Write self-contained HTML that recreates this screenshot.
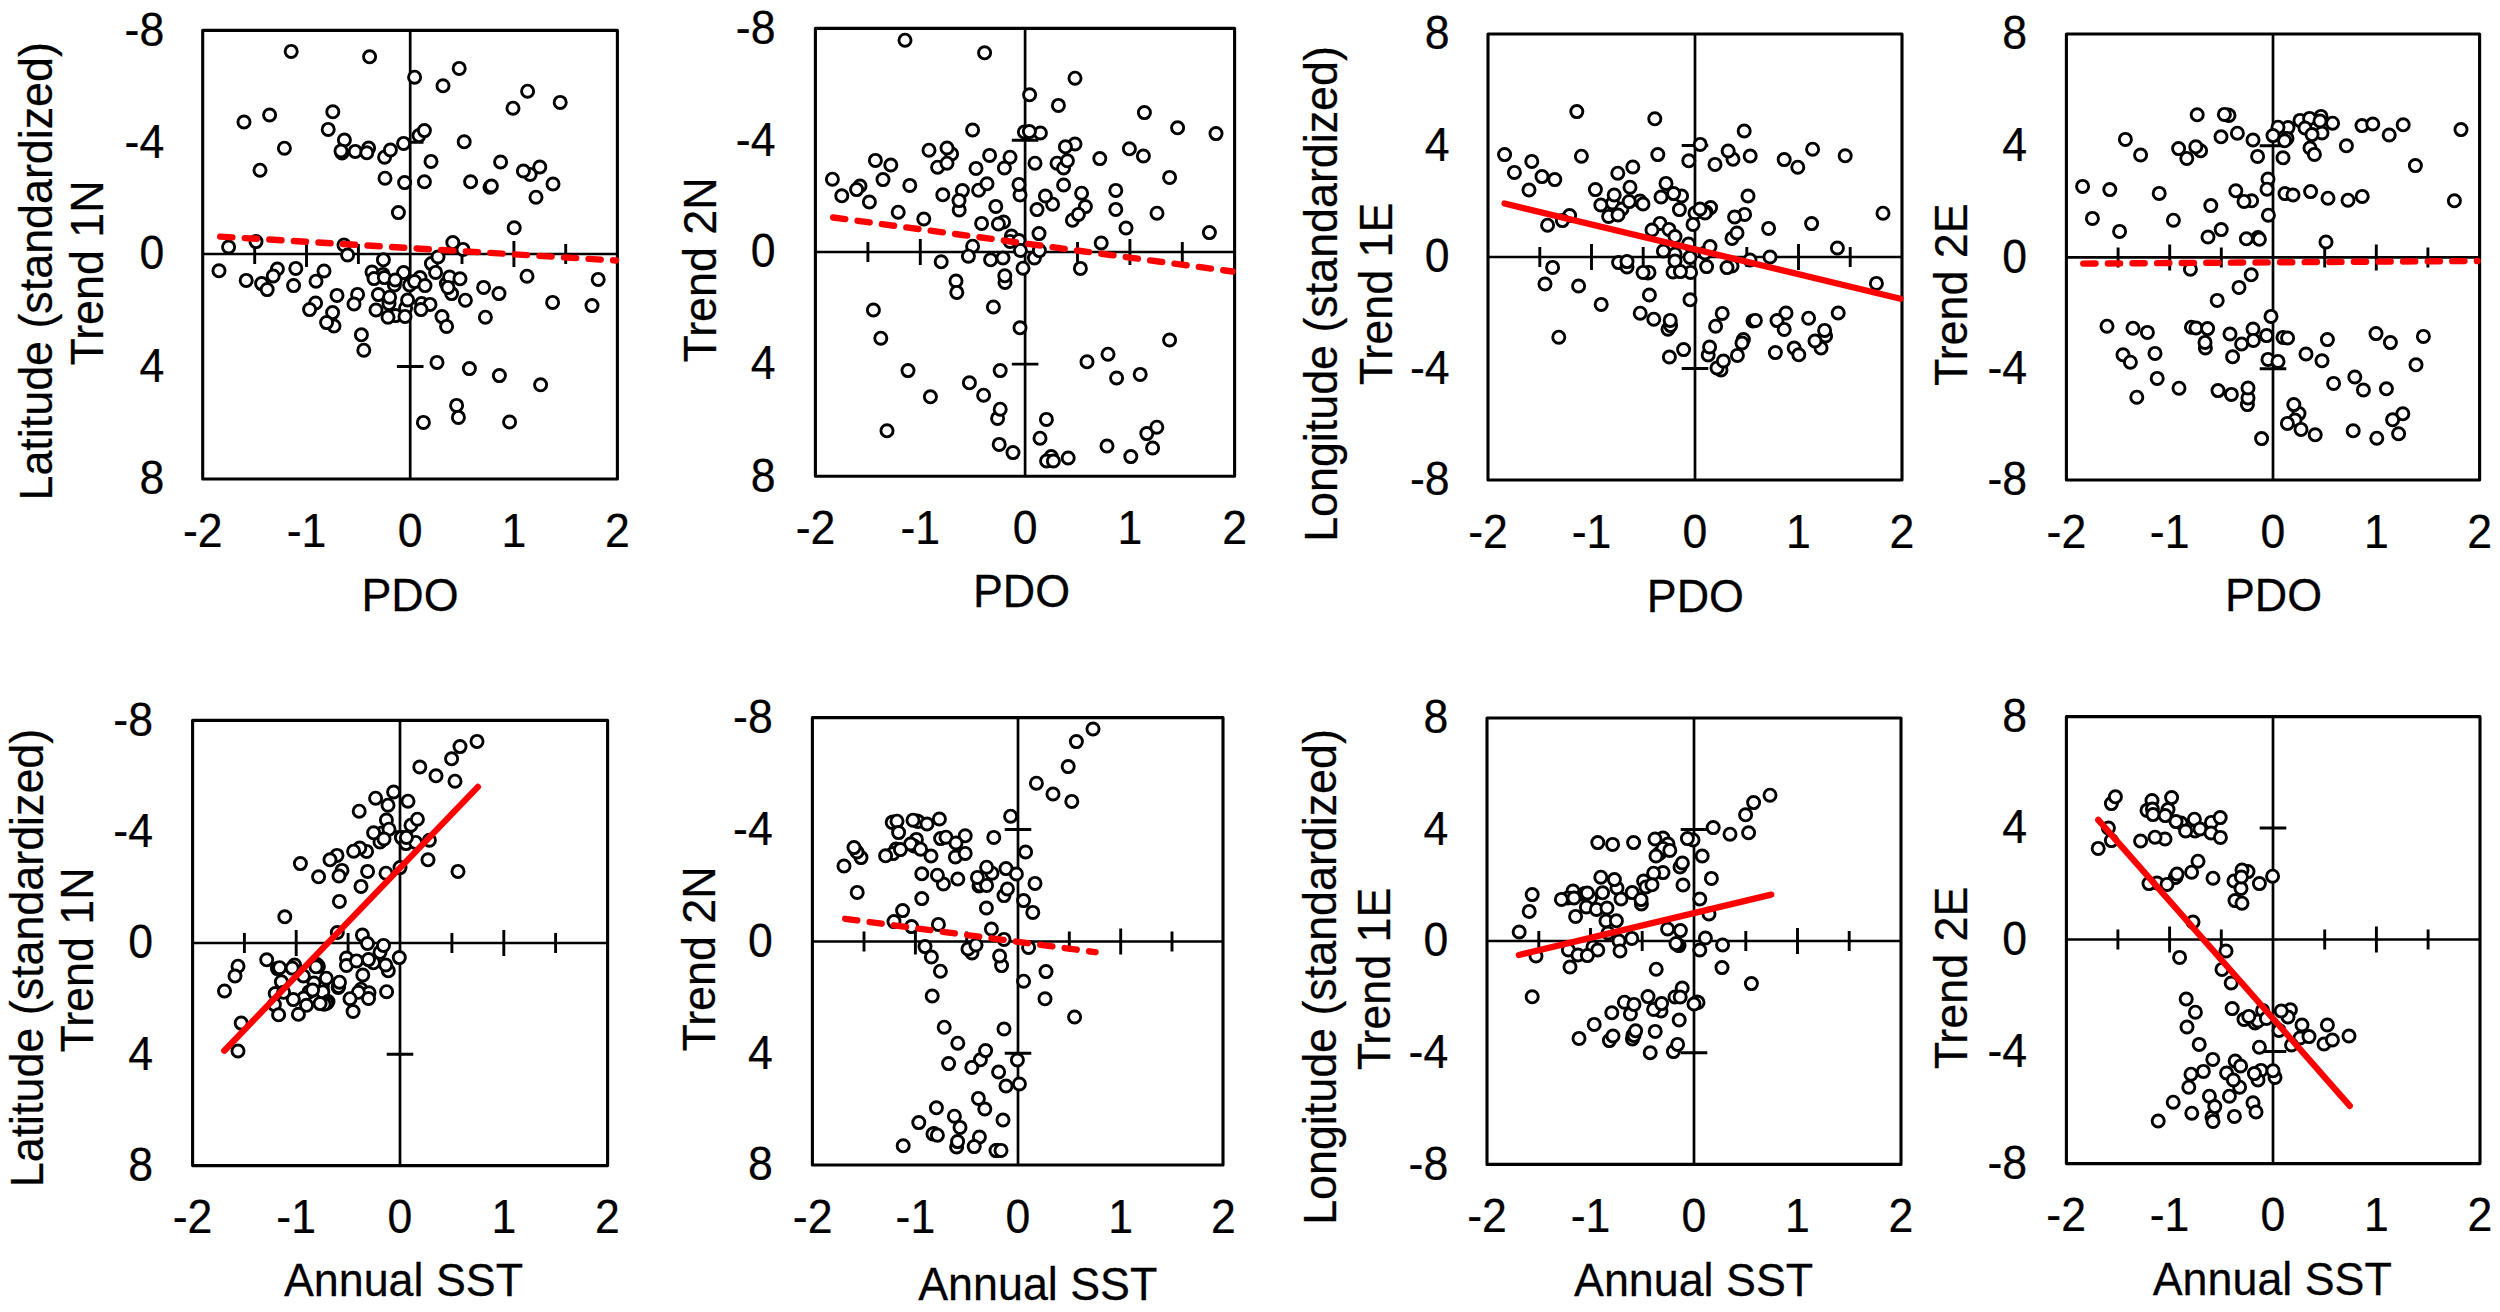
<!DOCTYPE html>
<html><head><meta charset="utf-8"><title>Trend scatter plots</title>
<style>
html,body{margin:0;padding:0;background:#fff}
svg{display:block}
text{font-family:"Liberation Sans",Arial,Helvetica,sans-serif;font-size:48.0px;fill:#000;stroke:#000;stroke-width:0.25px}
.lb{font-size:46.8px}
.ax{stroke:#000;stroke-width:3.1;stroke-linejoin:round;fill:none}
.ai{stroke:#000;stroke-width:2.7;fill:none}
.tk{stroke:#000;stroke-width:2.9;fill:none}
.pt circle{fill:#fff;stroke:#000;stroke-width:2.9}
.rs{stroke:#f00;stroke-width:6.3;stroke-linecap:round;fill:none}
.rd{stroke:#f00;stroke-width:6.4;stroke-linecap:round;stroke-dasharray:12.2 12.4;fill:none}
</style></head>
<body>
<svg width="2500" height="1312" viewBox="0 0 2500 1312">
<rect width="2500" height="1312" fill="#fff"/>
<g id="panel1">
<rect class="ax" x="202.7" y="30.4" width="414.7" height="448.6"/>
<path class="ai" d="M202.7 254H617.4M410.2 30.4V479"/>
<path class="tk" d="M254.7 244V264M306.5 241V267M358.4 244V264M462 244V264M513.9 241V267M565.7 244V264M396.9 142.2H423.5M396.9 366.5H423.5"/>
<g class="pt"><circle cx="419" cy="135.6" r="6.05"/><circle cx="368.6" cy="148" r="6.05"/><circle cx="384.6" cy="157.2" r="6.05"/><circle cx="342" cy="153" r="6.05"/><circle cx="530.2" cy="174.4" r="6.05"/><circle cx="490" cy="187.2" r="6.05"/>
<circle cx="463" cy="249.4" r="6.05"/><circle cx="344" cy="245" r="6.05"/><circle cx="431.4" cy="263.6" r="6.05"/><circle cx="277.4" cy="269" r="6.05"/><circle cx="261.6" cy="283.6" r="6.05"/><circle cx="372" cy="272" r="6.05"/>
<circle cx="383" cy="274.4" r="6.05"/><circle cx="374" cy="278.6" r="6.05"/><circle cx="394.4" cy="285" r="6.05"/><circle cx="420" cy="277.6" r="6.05"/><circle cx="409.6" cy="285" r="6.05"/><circle cx="446.4" cy="283.6" r="6.05"/>
<circle cx="451.6" cy="293.6" r="6.05"/><circle cx="389" cy="303.6" r="6.05"/><circle cx="405.6" cy="308" r="6.05"/><circle cx="315.6" cy="303" r="6.05"/><circle cx="421.6" cy="303.6" r="6.05"/><circle cx="332.6" cy="312.6" r="6.05"/>
<circle cx="395.6" cy="315.6" r="6.05"/><circle cx="405" cy="316.4" r="6.05"/><circle cx="334" cy="326" r="6.05"/><circle cx="291.2" cy="51.4" r="6.05"/><circle cx="369.6" cy="56.8" r="6.05"/><circle cx="459.2" cy="68.4" r="6.05"/>
<circle cx="414.6" cy="77.2" r="6.05"/><circle cx="443" cy="85.8" r="6.05"/><circle cx="527.6" cy="91.2" r="6.05"/><circle cx="560.2" cy="102.4" r="6.05"/><circle cx="513" cy="108.2" r="6.05"/><circle cx="332.8" cy="111.8" r="6.05"/>
<circle cx="269.6" cy="115" r="6.05"/><circle cx="244" cy="122" r="6.05"/><circle cx="328.2" cy="129.4" r="6.05"/><circle cx="424.4" cy="130.6" r="6.05"/><circle cx="344.4" cy="140" r="6.05"/><circle cx="464.2" cy="141.8" r="6.05"/>
<circle cx="403.6" cy="143.4" r="6.05"/><circle cx="284.4" cy="148.2" r="6.05"/><circle cx="390.4" cy="150" r="6.05"/><circle cx="341" cy="151" r="6.05"/><circle cx="355.2" cy="151.4" r="6.05"/><circle cx="366.8" cy="152.8" r="6.05"/>
<circle cx="431" cy="161.4" r="6.05"/><circle cx="500.6" cy="162" r="6.05"/><circle cx="539.8" cy="167" r="6.05"/><circle cx="260" cy="170.2" r="6.05"/><circle cx="523.4" cy="171" r="6.05"/><circle cx="385" cy="178.2" r="6.05"/>
<circle cx="404.6" cy="182.6" r="6.05"/><circle cx="424.4" cy="181.8" r="6.05"/><circle cx="470.6" cy="181.8" r="6.05"/><circle cx="553" cy="184" r="6.05"/><circle cx="491.4" cy="186" r="6.05"/><circle cx="536" cy="197.2" r="6.05"/>
<circle cx="398.4" cy="212.6" r="6.05"/><circle cx="514.2" cy="227.8" r="6.05"/><circle cx="452.8" cy="242.6" r="6.05"/><circle cx="256" cy="241.6" r="6.05"/><circle cx="228.6" cy="247" r="6.05"/><circle cx="347.6" cy="255" r="6.05"/>
<circle cx="438" cy="257" r="6.05"/><circle cx="383.4" cy="259.8" r="6.05"/><circle cx="219" cy="270.8" r="6.05"/><circle cx="295.8" cy="268.4" r="6.05"/><circle cx="324" cy="271" r="6.05"/><circle cx="273.2" cy="276" r="6.05"/>
<circle cx="246.2" cy="280.4" r="6.05"/><circle cx="267.2" cy="289.6" r="6.05"/><circle cx="293.6" cy="285.6" r="6.05"/><circle cx="316" cy="281.2" r="6.05"/><circle cx="384.4" cy="277.6" r="6.05"/><circle cx="403.6" cy="272.6" r="6.05"/>
<circle cx="395.2" cy="280" r="6.05"/><circle cx="414.6" cy="281.6" r="6.05"/><circle cx="425" cy="285.6" r="6.05"/><circle cx="435.6" cy="272.4" r="6.05"/><circle cx="449.6" cy="277" r="6.05"/><circle cx="460" cy="278.8" r="6.05"/>
<circle cx="448" cy="287.4" r="6.05"/><circle cx="483.6" cy="287.4" r="6.05"/><circle cx="499" cy="293.6" r="6.05"/><circle cx="527" cy="276.2" r="6.05"/><circle cx="598.2" cy="279.4" r="6.05"/><circle cx="337" cy="295.4" r="6.05"/>
<circle cx="357.6" cy="294.4" r="6.05"/><circle cx="378.4" cy="294.6" r="6.05"/><circle cx="389.6" cy="297.2" r="6.05"/><circle cx="407.6" cy="300" r="6.05"/><circle cx="465.4" cy="300.2" r="6.05"/><circle cx="354" cy="304" r="6.05"/>
<circle cx="430" cy="304.4" r="6.05"/><circle cx="421" cy="309.6" r="6.05"/><circle cx="309.6" cy="309.6" r="6.05"/><circle cx="376" cy="310" r="6.05"/><circle cx="388" cy="317.2" r="6.05"/><circle cx="442" cy="316.6" r="6.05"/>
<circle cx="485.4" cy="317.2" r="6.05"/><circle cx="326.6" cy="322.6" r="6.05"/><circle cx="446.6" cy="326.4" r="6.05"/><circle cx="552.6" cy="302.4" r="6.05"/><circle cx="592" cy="305.6" r="6.05"/><circle cx="361.4" cy="334.8" r="6.05"/>
<circle cx="363.8" cy="350.2" r="6.05"/><circle cx="437" cy="362.4" r="6.05"/><circle cx="469.4" cy="368.6" r="6.05"/><circle cx="499.4" cy="375.6" r="6.05"/><circle cx="540.6" cy="384.8" r="6.05"/><circle cx="456.6" cy="405.4" r="6.05"/>
<circle cx="458.4" cy="417.4" r="6.05"/><circle cx="423.4" cy="422.4" r="6.05"/><circle cx="509.6" cy="422" r="6.05"/></g>
<path class="rd" d="M220.2 236.6L616 260.5"/>
<text transform="translate(164.3 45.7) scale(0.9300 1)" text-anchor="end">-8</text><text transform="translate(164.3 157.5) scale(0.9300 1)" text-anchor="end">-4</text><text transform="translate(164.3 269.3) scale(0.9300 1)" text-anchor="end">0</text><text transform="translate(164.3 381.8) scale(0.9300 1)" text-anchor="end">4</text><text transform="translate(164.3 494.3) scale(0.9300 1)" text-anchor="end">8</text>
<text transform="translate(202.8 546.6) scale(0.9300 1)" text-anchor="middle">-2</text><text transform="translate(306.5 546.6) scale(0.9300 1)" text-anchor="middle">-1</text><text transform="translate(410.2 546.6) scale(0.9300 1)" text-anchor="middle">0</text><text transform="translate(513.9 546.6) scale(0.9300 1)" text-anchor="middle">1</text><text transform="translate(617.5 546.6) scale(0.9300 1)" text-anchor="middle">2</text>
<text class="lb" transform="translate(410 610.6) scale(0.9577 1)" text-anchor="middle">PDO</text>
<text class="lb" transform="translate(51.9 271.3) rotate(-90) scale(0.9577 1)" text-anchor="middle">Latitude (standardized)</text>
<text class="lb" transform="translate(102.8 273) rotate(-90) scale(0.9577 1)" text-anchor="middle">Trend 1N</text>
</g>
<g id="panel2">
<rect class="ax" x="815.4" y="28.4" width="419.2" height="447.9"/>
<path class="ai" d="M815.4 252H1234.6M1025.1 28.4V476.3"/>
<path class="tk" d="M867.9 242V262M920.3 239V265M972.7 242V262M1077.5 242V262M1129.9 239V265M1182.3 242V262M1011.8 140.2H1038.4M1011.8 364.1H1038.4"/>
<g class="pt"><circle cx="1024.4" cy="132" r="6.05"/><circle cx="1040.4" cy="133" r="6.05"/><circle cx="1075" cy="144" r="6.05"/><circle cx="951.6" cy="154" r="6.05"/><circle cx="937.6" cy="167.2" r="6.05"/><circle cx="1057" cy="163.2" r="6.05"/>
<circle cx="1063.6" cy="168" r="6.05"/><circle cx="860" cy="186" r="6.05"/><circle cx="978.6" cy="190.2" r="6.05"/><circle cx="959.2" cy="210" r="6.05"/><circle cx="1020" cy="195" r="6.05"/><circle cx="1052.6" cy="204.2" r="6.05"/>
<circle cx="1085.4" cy="206.6" r="6.05"/><circle cx="1072.4" cy="220.2" r="6.05"/><circle cx="1003.6" cy="222" r="6.05"/><circle cx="1011.4" cy="236" r="6.05"/><circle cx="1010" cy="241.4" r="6.05"/><circle cx="1034.4" cy="258" r="6.05"/>
<circle cx="1005" cy="282.4" r="6.05"/><circle cx="997.6" cy="418.4" r="6.05"/><circle cx="1146.8" cy="433.6" r="6.05"/><circle cx="1051.2" cy="456.6" r="6.05"/><circle cx="1046.6" cy="461" r="6.05"/><circle cx="905" cy="40.2" r="6.05"/>
<circle cx="984.6" cy="52.8" r="6.05"/><circle cx="1075" cy="78.2" r="6.05"/><circle cx="1029.6" cy="94.8" r="6.05"/><circle cx="1058.4" cy="105.4" r="6.05"/><circle cx="1144.4" cy="112.6" r="6.05"/><circle cx="1177.6" cy="127.8" r="6.05"/>
<circle cx="1216" cy="133.6" r="6.05"/><circle cx="972.6" cy="130" r="6.05"/><circle cx="1029.4" cy="131.6" r="6.05"/><circle cx="1065.4" cy="146.8" r="6.05"/><circle cx="947" cy="148" r="6.05"/><circle cx="929" cy="150.2" r="6.05"/>
<circle cx="989.6" cy="155.4" r="6.05"/><circle cx="1010" cy="157.2" r="6.05"/><circle cx="1129.4" cy="148.8" r="6.05"/><circle cx="1143.4" cy="156" r="6.05"/><circle cx="1099.8" cy="158.6" r="6.05"/><circle cx="875.4" cy="160.4" r="6.05"/>
<circle cx="890.8" cy="165" r="6.05"/><circle cx="947" cy="163.2" r="6.05"/><circle cx="976" cy="168.4" r="6.05"/><circle cx="1004.4" cy="168" r="6.05"/><circle cx="1035" cy="163.2" r="6.05"/><circle cx="1067.4" cy="160.8" r="6.05"/>
<circle cx="832.4" cy="179.2" r="6.05"/><circle cx="883" cy="179.6" r="6.05"/><circle cx="856.6" cy="189.6" r="6.05"/><circle cx="909.8" cy="185.4" r="6.05"/><circle cx="841.8" cy="195.8" r="6.05"/><circle cx="869.4" cy="202" r="6.05"/>
<circle cx="987" cy="183.8" r="6.05"/><circle cx="962.4" cy="190.6" r="6.05"/><circle cx="942.8" cy="194.8" r="6.05"/><circle cx="959" cy="200.6" r="6.05"/><circle cx="1019" cy="184.4" r="6.05"/><circle cx="1063.6" cy="185" r="6.05"/>
<circle cx="1169.6" cy="177.4" r="6.05"/><circle cx="1115.8" cy="190.4" r="6.05"/><circle cx="1081.6" cy="193.2" r="6.05"/><circle cx="1045.4" cy="196" r="6.05"/><circle cx="1037" cy="209.6" r="6.05"/><circle cx="1115.8" cy="209.4" r="6.05"/>
<circle cx="1157" cy="213.2" r="6.05"/><circle cx="1078.4" cy="214.4" r="6.05"/><circle cx="995.8" cy="206.4" r="6.05"/><circle cx="898.2" cy="212.2" r="6.05"/><circle cx="923.8" cy="219" r="6.05"/><circle cx="981.6" cy="223.4" r="6.05"/>
<circle cx="998.4" cy="224" r="6.05"/><circle cx="1126" cy="228" r="6.05"/><circle cx="1209.4" cy="232.6" r="6.05"/><circle cx="1039" cy="233.6" r="6.05"/><circle cx="1019" cy="240.6" r="6.05"/><circle cx="1101.2" cy="243" r="6.05"/>
<circle cx="972.6" cy="246.2" r="6.05"/><circle cx="1020.4" cy="250.4" r="6.05"/><circle cx="1039.4" cy="250.6" r="6.05"/><circle cx="968.4" cy="256.2" r="6.05"/><circle cx="1003" cy="258" r="6.05"/><circle cx="990.6" cy="259.8" r="6.05"/>
<circle cx="941.2" cy="261.8" r="6.05"/><circle cx="1023" cy="268.2" r="6.05"/><circle cx="1080.4" cy="268.4" r="6.05"/><circle cx="1004.8" cy="275.8" r="6.05"/><circle cx="956" cy="281" r="6.05"/><circle cx="956.8" cy="292.4" r="6.05"/>
<circle cx="993.4" cy="307" r="6.05"/><circle cx="873.4" cy="310" r="6.05"/><circle cx="1020" cy="327.8" r="6.05"/><circle cx="880.8" cy="338.2" r="6.05"/><circle cx="1169.6" cy="340" r="6.05"/><circle cx="1108" cy="354.2" r="6.05"/>
<circle cx="1087" cy="361.8" r="6.05"/><circle cx="1000.2" cy="370.6" r="6.05"/><circle cx="908" cy="370.6" r="6.05"/><circle cx="1140.2" cy="374.4" r="6.05"/><circle cx="1116.6" cy="378" r="6.05"/><circle cx="969.4" cy="382.8" r="6.05"/>
<circle cx="983.6" cy="395.2" r="6.05"/><circle cx="930.4" cy="396.8" r="6.05"/><circle cx="1000.2" cy="409.2" r="6.05"/><circle cx="1046.4" cy="419.4" r="6.05"/><circle cx="887" cy="430.8" r="6.05"/><circle cx="1156.8" cy="427.2" r="6.05"/>
<circle cx="1040" cy="438.2" r="6.05"/><circle cx="999.2" cy="444.4" r="6.05"/><circle cx="1107" cy="446" r="6.05"/><circle cx="1152.6" cy="448" r="6.05"/><circle cx="1013" cy="452.6" r="6.05"/><circle cx="1130.8" cy="456.6" r="6.05"/>
<circle cx="1068.2" cy="458" r="6.05"/><circle cx="1053.4" cy="461" r="6.05"/></g>
<path class="rd" d="M833.2 217.5L1232.5 271.5"/>
<text transform="translate(775.5 43.7) scale(0.9300 1)" text-anchor="end">-8</text><text transform="translate(775.5 155.5) scale(0.9300 1)" text-anchor="end">-4</text><text transform="translate(775.5 267.3) scale(0.9300 1)" text-anchor="end">0</text><text transform="translate(775.5 379.4) scale(0.9300 1)" text-anchor="end">4</text><text transform="translate(775.5 491.6) scale(0.9300 1)" text-anchor="end">8</text>
<text transform="translate(815.5 544) scale(0.9300 1)" text-anchor="middle">-2</text><text transform="translate(920.3 544) scale(0.9300 1)" text-anchor="middle">-1</text><text transform="translate(1025.1 544) scale(0.9300 1)" text-anchor="middle">0</text><text transform="translate(1129.9 544) scale(0.9300 1)" text-anchor="middle">1</text><text transform="translate(1234.7 544) scale(0.9300 1)" text-anchor="middle">2</text>
<text class="lb" transform="translate(1021.5 606.6) scale(0.9577 1)" text-anchor="middle">PDO</text>
<text class="lb" transform="translate(716.4 270) rotate(-90) scale(0.9577 1)" text-anchor="middle">Trend 2N</text>
</g>
<g id="panel3">
<rect class="ax" x="1488" y="34" width="414" height="446"/>
<path class="ai" d="M1488 257H1902M1695 34V480"/>
<path class="tk" d="M1539.8 247V267M1591.5 244V270M1643.2 247V267M1746.8 247V267M1798.5 244V270M1850.2 247V267M1681.7 145.5H1708.3M1681.7 368.5H1708.3"/>
<g class="pt"><circle cx="1733" cy="159.2" r="6.05"/><circle cx="1681.6" cy="196" r="6.05"/><circle cx="1640" cy="201" r="6.05"/><circle cx="1643" cy="204" r="6.05"/><circle cx="1612.6" cy="203" r="6.05"/><circle cx="1710.6" cy="207.6" r="6.05"/>
<circle cx="1695" cy="213" r="6.05"/><circle cx="1706" cy="212" r="6.05"/><circle cx="1705" cy="213" r="6.05"/><circle cx="1622" cy="209" r="6.05"/><circle cx="1608.6" cy="216.4" r="6.05"/><circle cx="1569.6" cy="215.6" r="6.05"/>
<circle cx="1744.6" cy="214.4" r="6.05"/><circle cx="1660" cy="223.4" r="6.05"/><circle cx="1732" cy="238.4" r="6.05"/><circle cx="1688.6" cy="244" r="6.05"/><circle cx="1675" cy="254" r="6.05"/><circle cx="1705" cy="253" r="6.05"/>
<circle cx="1750" cy="260" r="6.05"/><circle cx="1618.6" cy="262.6" r="6.05"/><circle cx="1627" cy="267" r="6.05"/><circle cx="1732" cy="266" r="6.05"/><circle cx="1648" cy="273" r="6.05"/><circle cx="1649" cy="272.4" r="6.05"/>
<circle cx="1673" cy="272" r="6.05"/><circle cx="1690.6" cy="272.4" r="6.05"/><circle cx="1668" cy="329.2" r="6.05"/><circle cx="1670.6" cy="325.6" r="6.05"/><circle cx="1753" cy="321" r="6.05"/><circle cx="1825.6" cy="336" r="6.05"/>
<circle cx="1821" cy="348" r="6.05"/><circle cx="1743.4" cy="339.6" r="6.05"/><circle cx="1708.2" cy="355" r="6.05"/><circle cx="1794.2" cy="348" r="6.05"/><circle cx="1721" cy="370" r="6.05"/><circle cx="1717" cy="368" r="6.05"/>
<circle cx="1576.8" cy="111.6" r="6.05"/><circle cx="1654.8" cy="118.8" r="6.05"/><circle cx="1744.2" cy="131" r="6.05"/><circle cx="1700.2" cy="144.4" r="6.05"/><circle cx="1812.6" cy="149.2" r="6.05"/><circle cx="1504.6" cy="154.6" r="6.05"/>
<circle cx="1581.4" cy="156.2" r="6.05"/><circle cx="1657.8" cy="154.6" r="6.05"/><circle cx="1728.2" cy="151" r="6.05"/><circle cx="1750.2" cy="156" r="6.05"/><circle cx="1845.2" cy="155.8" r="6.05"/><circle cx="1688.8" cy="160.8" r="6.05"/>
<circle cx="1784.2" cy="159.6" r="6.05"/><circle cx="1531.8" cy="161.4" r="6.05"/><circle cx="1715" cy="164.4" r="6.05"/><circle cx="1797.8" cy="167.2" r="6.05"/><circle cx="1632.8" cy="167" r="6.05"/><circle cx="1514.4" cy="172.4" r="6.05"/>
<circle cx="1617.8" cy="173.2" r="6.05"/><circle cx="1542" cy="176.6" r="6.05"/><circle cx="1554.8" cy="179.6" r="6.05"/><circle cx="1666" cy="183.4" r="6.05"/><circle cx="1630" cy="187.2" r="6.05"/><circle cx="1529" cy="190" r="6.05"/>
<circle cx="1595.4" cy="189.6" r="6.05"/><circle cx="1614.2" cy="195" r="6.05"/><circle cx="1673.6" cy="193.6" r="6.05"/><circle cx="1661" cy="197" r="6.05"/><circle cx="1748" cy="196" r="6.05"/><circle cx="1629.2" cy="201.6" r="6.05"/>
<circle cx="1600.8" cy="205" r="6.05"/><circle cx="1679.4" cy="209.6" r="6.05"/><circle cx="1700" cy="209" r="6.05"/><circle cx="1618" cy="215" r="6.05"/><circle cx="1562.4" cy="220.6" r="6.05"/><circle cx="1547.6" cy="225.2" r="6.05"/>
<circle cx="1734.6" cy="217" r="6.05"/><circle cx="1883" cy="213.2" r="6.05"/><circle cx="1693" cy="224.4" r="6.05"/><circle cx="1811.6" cy="223.6" r="6.05"/><circle cx="1652" cy="230" r="6.05"/><circle cx="1669" cy="229.4" r="6.05"/>
<circle cx="1768.6" cy="228.4" r="6.05"/><circle cx="1737" cy="233" r="6.05"/><circle cx="1675" cy="236.6" r="6.05"/><circle cx="1710" cy="246.6" r="6.05"/><circle cx="1837.4" cy="248" r="6.05"/><circle cx="1663.4" cy="251" r="6.05"/>
<circle cx="1690" cy="257.4" r="6.05"/><circle cx="1770" cy="257" r="6.05"/><circle cx="1675" cy="261" r="6.05"/><circle cx="1627" cy="261.6" r="6.05"/><circle cx="1552.6" cy="267.4" r="6.05"/><circle cx="1706.6" cy="266.6" r="6.05"/>
<circle cx="1727" cy="267.6" r="6.05"/><circle cx="1643" cy="272.4" r="6.05"/><circle cx="1680.4" cy="271.6" r="6.05"/><circle cx="1545" cy="284" r="6.05"/><circle cx="1578.6" cy="286" r="6.05"/><circle cx="1876.4" cy="283.4" r="6.05"/>
<circle cx="1649.4" cy="295" r="6.05"/><circle cx="1690" cy="299.8" r="6.05"/><circle cx="1601.2" cy="304.4" r="6.05"/><circle cx="1640.2" cy="313.2" r="6.05"/><circle cx="1653.8" cy="319.2" r="6.05"/><circle cx="1670.2" cy="320.4" r="6.05"/>
<circle cx="1722.2" cy="313.4" r="6.05"/><circle cx="1715.6" cy="326.2" r="6.05"/><circle cx="1755.4" cy="320.4" r="6.05"/><circle cx="1786" cy="313" r="6.05"/><circle cx="1777" cy="320.6" r="6.05"/><circle cx="1784.2" cy="329.4" r="6.05"/>
<circle cx="1808.6" cy="318.2" r="6.05"/><circle cx="1838.2" cy="313" r="6.05"/><circle cx="1824.6" cy="330.4" r="6.05"/><circle cx="1815" cy="341" r="6.05"/><circle cx="1558.8" cy="337.2" r="6.05"/><circle cx="1742" cy="343" r="6.05"/>
<circle cx="1709.6" cy="347" r="6.05"/><circle cx="1683.6" cy="349.6" r="6.05"/><circle cx="1669.4" cy="357" r="6.05"/><circle cx="1737.4" cy="355.4" r="6.05"/><circle cx="1775.4" cy="352.6" r="6.05"/><circle cx="1798.8" cy="354.8" r="6.05"/>
<circle cx="1723.4" cy="361" r="6.05"/></g>
<path class="rs" d="M1504.5 203.5L1900.5 298.7"/>
<text transform="translate(1449.6 49.3) scale(0.9300 1)" text-anchor="end">8</text><text transform="translate(1449.6 160.8) scale(0.9300 1)" text-anchor="end">4</text><text transform="translate(1449.6 272.3) scale(0.9300 1)" text-anchor="end">0</text><text transform="translate(1449.6 383.8) scale(0.9300 1)" text-anchor="end">-4</text><text transform="translate(1449.6 495.3) scale(0.9300 1)" text-anchor="end">-8</text>
<text transform="translate(1488 548.4) scale(0.9300 1)" text-anchor="middle">-2</text><text transform="translate(1591.5 548.4) scale(0.9300 1)" text-anchor="middle">-1</text><text transform="translate(1695 548.4) scale(0.9300 1)" text-anchor="middle">0</text><text transform="translate(1798.5 548.4) scale(0.9300 1)" text-anchor="middle">1</text><text transform="translate(1902 548.4) scale(0.9300 1)" text-anchor="middle">2</text>
<text class="lb" transform="translate(1695.4 611.6) scale(0.9577 1)" text-anchor="middle">PDO</text>
<text class="lb" transform="translate(1337 294) rotate(-90) scale(0.9577 1)" text-anchor="middle">Longitude (standardized)</text>
<text class="lb" transform="translate(1391.9 294) rotate(-90) scale(0.9577 1)" text-anchor="middle">Trend 1E</text>
</g>
<g id="panel4">
<rect class="ax" x="2066.4" y="34" width="413.2" height="446"/>
<path class="ai" d="M2066.4 257.4H2479.6M2273 34V480"/>
<path class="tk" d="M2118.1 247.4V267.4M2169.7 244.4V270.4M2221.3 247.4V267.4M2324.7 247.4V267.4M2376.3 244.4V270.4M2427.9 247.4V267.4M2259.7 145.7H2286.3M2259.7 368.7H2286.3"/>
<g class="pt"><circle cx="2228" cy="115" r="6.05"/><circle cx="2229" cy="115.4" r="6.05"/><circle cx="2321" cy="116.4" r="6.05"/><circle cx="2300" cy="120.4" r="6.05"/><circle cx="2288" cy="127.6" r="6.05"/><circle cx="2362" cy="125.6" r="6.05"/>
<circle cx="2322" cy="133" r="6.05"/><circle cx="2287" cy="138.4" r="6.05"/><circle cx="2200.6" cy="150.8" r="6.05"/><circle cx="2310" cy="148" r="6.05"/><circle cx="2285" cy="193.6" r="6.05"/><circle cx="2251.6" cy="200.8" r="6.05"/>
<circle cx="2258" cy="237.6" r="6.05"/><circle cx="2191.4" cy="327.2" r="6.05"/><circle cx="2283" cy="337.4" r="6.05"/><circle cx="2205.4" cy="348" r="6.05"/><circle cx="2123" cy="354.8" r="6.05"/><circle cx="2268" cy="359.4" r="6.05"/>
<circle cx="2247.4" cy="404.6" r="6.05"/><circle cx="2248" cy="398" r="6.05"/><circle cx="2299" cy="413.6" r="6.05"/><circle cx="2295" cy="420" r="6.05"/><circle cx="2197.2" cy="114.8" r="6.05"/><circle cx="2224.4" cy="114.4" r="6.05"/>
<circle cx="2309.6" cy="118.4" r="6.05"/><circle cx="2320" cy="121" r="6.05"/><circle cx="2332.6" cy="123.2" r="6.05"/><circle cx="2278" cy="127.2" r="6.05"/><circle cx="2305" cy="128" r="6.05"/><circle cx="2372.8" cy="124" r="6.05"/>
<circle cx="2403.2" cy="124.8" r="6.05"/><circle cx="2461" cy="129.6" r="6.05"/><circle cx="2237.4" cy="133.2" r="6.05"/><circle cx="2312" cy="134.6" r="6.05"/><circle cx="2389.2" cy="135" r="6.05"/><circle cx="2221" cy="136.8" r="6.05"/>
<circle cx="2273" cy="135.6" r="6.05"/><circle cx="2284.6" cy="140.8" r="6.05"/><circle cx="2253" cy="140" r="6.05"/><circle cx="2125.4" cy="139.4" r="6.05"/><circle cx="2346.4" cy="145.8" r="6.05"/><circle cx="2195.8" cy="146.8" r="6.05"/>
<circle cx="2178.6" cy="148.6" r="6.05"/><circle cx="2314.4" cy="154.4" r="6.05"/><circle cx="2140.6" cy="155" r="6.05"/><circle cx="2186.8" cy="158.4" r="6.05"/><circle cx="2257.6" cy="156.4" r="6.05"/><circle cx="2283" cy="157.8" r="6.05"/>
<circle cx="2415.4" cy="165.6" r="6.05"/><circle cx="2268" cy="179" r="6.05"/><circle cx="2082.6" cy="186.4" r="6.05"/><circle cx="2109.8" cy="189.6" r="6.05"/><circle cx="2267" cy="189.2" r="6.05"/><circle cx="2235.8" cy="190.8" r="6.05"/>
<circle cx="2159.2" cy="193.4" r="6.05"/><circle cx="2310.6" cy="191.6" r="6.05"/><circle cx="2293" cy="195" r="6.05"/><circle cx="2362.2" cy="196.4" r="6.05"/><circle cx="2328" cy="198.2" r="6.05"/><circle cx="2348" cy="200.2" r="6.05"/>
<circle cx="2244" cy="201.4" r="6.05"/><circle cx="2454.4" cy="200.8" r="6.05"/><circle cx="2210.8" cy="205.6" r="6.05"/><circle cx="2268.4" cy="215.2" r="6.05"/><circle cx="2092.4" cy="218.4" r="6.05"/><circle cx="2173.4" cy="220.2" r="6.05"/>
<circle cx="2221.2" cy="229.6" r="6.05"/><circle cx="2119.6" cy="231.4" r="6.05"/><circle cx="2208" cy="237" r="6.05"/><circle cx="2246.4" cy="238.8" r="6.05"/><circle cx="2259.4" cy="239.2" r="6.05"/><circle cx="2326" cy="242" r="6.05"/>
<circle cx="2190.4" cy="269.2" r="6.05"/><circle cx="2251.2" cy="274.8" r="6.05"/><circle cx="2239" cy="287.4" r="6.05"/><circle cx="2217.2" cy="300.4" r="6.05"/><circle cx="2271" cy="316.4" r="6.05"/><circle cx="2107" cy="326.2" r="6.05"/>
<circle cx="2133" cy="328.2" r="6.05"/><circle cx="2147.4" cy="332.4" r="6.05"/><circle cx="2196" cy="328" r="6.05"/><circle cx="2207.6" cy="328.6" r="6.05"/><circle cx="2253" cy="329" r="6.05"/><circle cx="2230" cy="334" r="6.05"/>
<circle cx="2266.6" cy="335.6" r="6.05"/><circle cx="2287.6" cy="338" r="6.05"/><circle cx="2376" cy="333.6" r="6.05"/><circle cx="2423.4" cy="336.4" r="6.05"/><circle cx="2327.4" cy="339.6" r="6.05"/><circle cx="2253.4" cy="340.4" r="6.05"/>
<circle cx="2241.6" cy="344" r="6.05"/><circle cx="2205" cy="342.4" r="6.05"/><circle cx="2390.4" cy="342.6" r="6.05"/><circle cx="2155" cy="353.4" r="6.05"/><circle cx="2130.4" cy="362.2" r="6.05"/><circle cx="2232.6" cy="356.8" r="6.05"/>
<circle cx="2306" cy="354" r="6.05"/><circle cx="2278" cy="361.4" r="6.05"/><circle cx="2322" cy="360.8" r="6.05"/><circle cx="2416" cy="364.8" r="6.05"/><circle cx="2157.2" cy="378.4" r="6.05"/><circle cx="2354.8" cy="377" r="6.05"/>
<circle cx="2333.6" cy="383.4" r="6.05"/><circle cx="2179" cy="388.2" r="6.05"/><circle cx="2218" cy="390.6" r="6.05"/><circle cx="2231.4" cy="394.4" r="6.05"/><circle cx="2363.4" cy="390" r="6.05"/><circle cx="2386.4" cy="388.8" r="6.05"/>
<circle cx="2248" cy="388" r="6.05"/><circle cx="2136.8" cy="397.2" r="6.05"/><circle cx="2293.8" cy="404.6" r="6.05"/><circle cx="2287.4" cy="423.4" r="6.05"/><circle cx="2301" cy="429.4" r="6.05"/><circle cx="2315.2" cy="434.8" r="6.05"/>
<circle cx="2402.8" cy="413.8" r="6.05"/><circle cx="2392.6" cy="419.8" r="6.05"/><circle cx="2353.2" cy="430.8" r="6.05"/><circle cx="2398.6" cy="433.8" r="6.05"/><circle cx="2376.8" cy="438.2" r="6.05"/><circle cx="2261.6" cy="438.6" r="6.05"/>
</g>
<path class="rd" d="M2083.3 263.6L2477.5 261"/>
<text transform="translate(2027.2 49.3) scale(0.9300 1)" text-anchor="end">8</text><text transform="translate(2027.2 161) scale(0.9300 1)" text-anchor="end">4</text><text transform="translate(2027.2 272.7) scale(0.9300 1)" text-anchor="end">0</text><text transform="translate(2027.2 384) scale(0.9300 1)" text-anchor="end">-4</text><text transform="translate(2027.2 495.3) scale(0.9300 1)" text-anchor="end">-8</text>
<text transform="translate(2066.4 548) scale(0.9300 1)" text-anchor="middle">-2</text><text transform="translate(2169.7 548) scale(0.9300 1)" text-anchor="middle">-1</text><text transform="translate(2273 548) scale(0.9300 1)" text-anchor="middle">0</text><text transform="translate(2376.3 548) scale(0.9300 1)" text-anchor="middle">1</text><text transform="translate(2479.6 548) scale(0.9300 1)" text-anchor="middle">2</text>
<text class="lb" transform="translate(2273.5 611.4) scale(0.9577 1)" text-anchor="middle">PDO</text>
<text class="lb" transform="translate(1967 294.7) rotate(-90) scale(0.9577 1)" text-anchor="middle">Trend 2E</text>
</g>
<g id="panel5">
<rect class="ax" x="192.6" y="720.4" width="415" height="445.2"/>
<path class="ai" d="M192.6 943H607.6M400 720.4V1165.6"/>
<path class="tk" d="M244.4 933V953M296.2 930V956M348.1 933V953M451.9 933V953M503.8 930V956M555.6 933V953M386.7 831.7H413.3M386.7 1054.3H413.3"/>
<g class="pt"><circle cx="411" cy="825.2" r="6.05"/><circle cx="382" cy="833" r="6.05"/><circle cx="401.4" cy="837.6" r="6.05"/><circle cx="406" cy="843.6" r="6.05"/><circle cx="380" cy="842" r="6.05"/><circle cx="415.6" cy="842.4" r="6.05"/>
<circle cx="366.6" cy="851.4" r="6.05"/><circle cx="359.8" cy="848" r="6.05"/><circle cx="337" cy="855.4" r="6.05"/><circle cx="342" cy="870.4" r="6.05"/><circle cx="238" cy="966.2" r="6.05"/><circle cx="277.4" cy="968.6" r="6.05"/>
<circle cx="294.6" cy="965" r="6.05"/><circle cx="275.2" cy="993.6" r="6.05"/><circle cx="274.4" cy="1004.6" r="6.05"/><circle cx="303.4" cy="976" r="6.05"/><circle cx="317" cy="964.6" r="6.05"/><circle cx="318.4" cy="966.4" r="6.05"/>
<circle cx="322.3" cy="986.6" r="6.05"/><circle cx="309.1" cy="991.9" r="6.05"/><circle cx="322.8" cy="991.9" r="6.05"/><circle cx="303.8" cy="998" r="6.05"/><circle cx="328" cy="1001.6" r="6.05"/><circle cx="326.7" cy="1003.3" r="6.05"/>
<circle cx="324.1" cy="1004.2" r="6.05"/><circle cx="338.2" cy="987.5" r="6.05"/><circle cx="338.6" cy="986.6" r="6.05"/><circle cx="362.4" cy="935.1" r="6.05"/><circle cx="380" cy="952.3" r="6.05"/><circle cx="346.5" cy="958" r="6.05"/>
<circle cx="373.4" cy="962.8" r="6.05"/><circle cx="388.3" cy="970.8" r="6.05"/><circle cx="361" cy="989.2" r="6.05"/><circle cx="369" cy="992.8" r="6.05"/><circle cx="477" cy="741.4" r="6.05"/><circle cx="460" cy="746.6" r="6.05"/>
<circle cx="451.6" cy="758.8" r="6.05"/><circle cx="419.8" cy="767" r="6.05"/><circle cx="436" cy="775.8" r="6.05"/><circle cx="455" cy="781.2" r="6.05"/><circle cx="393.6" cy="792" r="6.05"/><circle cx="375.6" cy="798.2" r="6.05"/>
<circle cx="408" cy="801.2" r="6.05"/><circle cx="388" cy="805.2" r="6.05"/><circle cx="359.2" cy="811.2" r="6.05"/><circle cx="417.4" cy="819.2" r="6.05"/><circle cx="386.4" cy="820" r="6.05"/><circle cx="389" cy="829.2" r="6.05"/>
<circle cx="373.6" cy="832.8" r="6.05"/><circle cx="406.4" cy="837.4" r="6.05"/><circle cx="384" cy="839" r="6.05"/><circle cx="429.4" cy="840.2" r="6.05"/><circle cx="353.6" cy="851.2" r="6.05"/><circle cx="330" cy="859.8" r="6.05"/>
<circle cx="300.4" cy="863.6" r="6.05"/><circle cx="428" cy="859.8" r="6.05"/><circle cx="458" cy="871.4" r="6.05"/><circle cx="367.6" cy="871.4" r="6.05"/><circle cx="386" cy="873.2" r="6.05"/><circle cx="400" cy="867.6" r="6.05"/>
<circle cx="318.6" cy="876.8" r="6.05"/><circle cx="339" cy="876" r="6.05"/><circle cx="361" cy="886.4" r="6.05"/><circle cx="339.4" cy="901.4" r="6.05"/><circle cx="284.8" cy="916.8" r="6.05"/><circle cx="238" cy="1051" r="6.05"/>
<circle cx="235" cy="976" r="6.05"/><circle cx="224.5" cy="991" r="6.05"/><circle cx="241.2" cy="1023.1" r="6.05"/><circle cx="266.7" cy="959.8" r="6.05"/><circle cx="279.6" cy="967.7" r="6.05"/><circle cx="292.2" cy="968.1" r="6.05"/>
<circle cx="281.4" cy="981.8" r="6.05"/><circle cx="283.6" cy="992.3" r="6.05"/><circle cx="278.6" cy="1014.8" r="6.05"/><circle cx="316" cy="966.8" r="6.05"/><circle cx="326.3" cy="978.2" r="6.05"/><circle cx="314" cy="983.1" r="6.05"/>
<circle cx="312.6" cy="990.1" r="6.05"/><circle cx="293.3" cy="999.6" r="6.05"/><circle cx="306.5" cy="1005.3" r="6.05"/><circle cx="298.4" cy="1014.3" r="6.05"/><circle cx="320.1" cy="1003.6" r="6.05"/><circle cx="339.5" cy="982.2" r="6.05"/>
<circle cx="337.3" cy="932.5" r="6.05"/><circle cx="367.5" cy="943.5" r="6.05"/><circle cx="383.5" cy="945.4" r="6.05"/><circle cx="399.3" cy="957.6" r="6.05"/><circle cx="346.5" cy="965.5" r="6.05"/><circle cx="356.5" cy="960.9" r="6.05"/>
<circle cx="368.5" cy="959.6" r="6.05"/><circle cx="385.7" cy="965" r="6.05"/><circle cx="362.8" cy="975" r="6.05"/><circle cx="358.4" cy="992.3" r="6.05"/><circle cx="368.5" cy="998.5" r="6.05"/><circle cx="350" cy="998.7" r="6.05"/>
<circle cx="353.1" cy="1011.5" r="6.05"/><circle cx="386.6" cy="991.7" r="6.05"/></g>
<path class="rs" d="M224.3 1050.7L477.9 786.9"/>
<text transform="translate(153 735.7) scale(0.9300 1)" text-anchor="end">-8</text><text transform="translate(153 847) scale(0.9300 1)" text-anchor="end">-4</text><text transform="translate(153 958.3) scale(0.9300 1)" text-anchor="end">0</text><text transform="translate(153 1069.6) scale(0.9300 1)" text-anchor="end">4</text><text transform="translate(153 1180.9) scale(0.9300 1)" text-anchor="end">8</text>
<text transform="translate(192.5 1233) scale(0.9300 1)" text-anchor="middle">-2</text><text transform="translate(296.2 1233) scale(0.9300 1)" text-anchor="middle">-1</text><text transform="translate(400 1233) scale(0.9300 1)" text-anchor="middle">0</text><text transform="translate(503.8 1233) scale(0.9300 1)" text-anchor="middle">1</text><text transform="translate(607.5 1233) scale(0.9300 1)" text-anchor="middle">2</text>
<text class="lb" transform="translate(403.5 1295.6) scale(0.9577 1)" text-anchor="middle">Annual SST</text>
<text class="lb" transform="translate(42.7 958) rotate(-90) scale(0.9577 1)" text-anchor="middle">Latitude (standardized)</text>
<text class="lb" transform="translate(93.1 960) rotate(-90) scale(0.9577 1)" text-anchor="middle">Trend 1N</text>
</g>
<g id="panel6">
<rect class="ax" x="812.4" y="717.6" width="410.6" height="447.4"/>
<path class="ai" d="M812.4 941.5H1223M1018 717.6V1165"/>
<path class="tk" d="M864 931.5V951.5M915.4 928.5V954.5M966.7 931.5V951.5M1069.3 931.5V951.5M1120.7 928.5V954.5M1172 931.5V951.5M1004.7 829.5H1031.3M1004.7 1053.2H1031.3"/>
<g class="pt"><circle cx="917" cy="821" r="6.05"/><circle cx="918" cy="821.4" r="6.05"/><circle cx="893" cy="822" r="6.05"/><circle cx="892.2" cy="822.4" r="6.05"/><circle cx="940.6" cy="838.6" r="6.05"/><circle cx="916.4" cy="839.4" r="6.05"/>
<circle cx="914" cy="846" r="6.05"/><circle cx="861" cy="857.6" r="6.05"/><circle cx="857" cy="852" r="6.05"/><circle cx="896" cy="849" r="6.05"/><circle cx="893" cy="853.6" r="6.05"/><circle cx="955.4" cy="857" r="6.05"/>
<circle cx="992" cy="873.2" r="6.05"/><circle cx="979" cy="886" r="6.05"/><circle cx="980" cy="885" r="6.05"/><circle cx="943.4" cy="884" r="6.05"/><circle cx="1004" cy="895.6" r="6.05"/><circle cx="972" cy="953" r="6.05"/>
<circle cx="1001.6" cy="965.6" r="6.05"/><circle cx="980.4" cy="1059.8" r="6.05"/><circle cx="934" cy="1133.6" r="6.05"/><circle cx="933" cy="1134" r="6.05"/><circle cx="956.6" cy="1147" r="6.05"/><circle cx="997" cy="1150.4" r="6.05"/>
<circle cx="996" cy="1150.6" r="6.05"/><circle cx="1093" cy="729" r="6.05"/><circle cx="1076.4" cy="741.6" r="6.05"/><circle cx="1068.2" cy="766.6" r="6.05"/><circle cx="1036.4" cy="783.2" r="6.05"/><circle cx="1053" cy="794" r="6.05"/>
<circle cx="1071.8" cy="801.4" r="6.05"/><circle cx="1010.6" cy="816.2" r="6.05"/><circle cx="939.4" cy="819" r="6.05"/><circle cx="913" cy="820.2" r="6.05"/><circle cx="897" cy="821.2" r="6.05"/><circle cx="927" cy="824" r="6.05"/>
<circle cx="898.6" cy="832.6" r="6.05"/><circle cx="965.2" cy="835.8" r="6.05"/><circle cx="993.8" cy="837.4" r="6.05"/><circle cx="946" cy="837.2" r="6.05"/><circle cx="956" cy="843" r="6.05"/><circle cx="910.6" cy="844" r="6.05"/>
<circle cx="854" cy="847.6" r="6.05"/><circle cx="900.4" cy="849.6" r="6.05"/><circle cx="920.6" cy="849.2" r="6.05"/><circle cx="885.6" cy="855.8" r="6.05"/><circle cx="931" cy="856" r="6.05"/><circle cx="965.2" cy="853.4" r="6.05"/>
<circle cx="1025.6" cy="852" r="6.05"/><circle cx="844" cy="866" r="6.05"/><circle cx="986.6" cy="867.2" r="6.05"/><circle cx="1006" cy="868.6" r="6.05"/><circle cx="1016.4" cy="874" r="6.05"/><circle cx="921.8" cy="873.8" r="6.05"/>
<circle cx="937.4" cy="875.2" r="6.05"/><circle cx="977.4" cy="877.4" r="6.05"/><circle cx="957.8" cy="879" r="6.05"/><circle cx="986.6" cy="885.4" r="6.05"/><circle cx="1035" cy="883.4" r="6.05"/><circle cx="1007.4" cy="889" r="6.05"/>
<circle cx="857.2" cy="892.4" r="6.05"/><circle cx="921.8" cy="898.6" r="6.05"/><circle cx="1023.6" cy="900.6" r="6.05"/><circle cx="986.4" cy="908" r="6.05"/><circle cx="902.6" cy="910.6" r="6.05"/><circle cx="1032.8" cy="912.4" r="6.05"/>
<circle cx="894" cy="921.6" r="6.05"/><circle cx="911.6" cy="926.6" r="6.05"/><circle cx="938.4" cy="924.4" r="6.05"/><circle cx="991.4" cy="929" r="6.05"/><circle cx="1004" cy="939.4" r="6.05"/><circle cx="925" cy="946.6" r="6.05"/>
<circle cx="968" cy="949" r="6.05"/><circle cx="976" cy="945" r="6.05"/><circle cx="1028.6" cy="947.4" r="6.05"/><circle cx="999.6" cy="956" r="6.05"/><circle cx="931.4" cy="957" r="6.05"/><circle cx="940.4" cy="971.2" r="6.05"/>
<circle cx="1046" cy="971.6" r="6.05"/><circle cx="1023.6" cy="981.2" r="6.05"/><circle cx="932.2" cy="996" r="6.05"/><circle cx="1045" cy="998.8" r="6.05"/><circle cx="1074.6" cy="1017" r="6.05"/><circle cx="944.2" cy="1027.2" r="6.05"/>
<circle cx="1004" cy="1029" r="6.05"/><circle cx="957.8" cy="1043.2" r="6.05"/><circle cx="985.6" cy="1050.6" r="6.05"/><circle cx="1017.4" cy="1060" r="6.05"/><circle cx="948.6" cy="1063.6" r="6.05"/><circle cx="971.8" cy="1067.4" r="6.05"/>
<circle cx="998.6" cy="1072" r="6.05"/><circle cx="1019.4" cy="1084" r="6.05"/><circle cx="1006" cy="1086" r="6.05"/><circle cx="978.4" cy="1098.4" r="6.05"/><circle cx="984.8" cy="1109" r="6.05"/><circle cx="936.4" cy="1107.8" r="6.05"/>
<circle cx="954.4" cy="1116.2" r="6.05"/><circle cx="1003" cy="1120" r="6.05"/><circle cx="918.8" cy="1122.6" r="6.05"/><circle cx="960" cy="1127.4" r="6.05"/><circle cx="937.4" cy="1135.2" r="6.05"/><circle cx="979.4" cy="1137" r="6.05"/>
<circle cx="957.6" cy="1141.6" r="6.05"/><circle cx="903.2" cy="1145.8" r="6.05"/><circle cx="974.2" cy="1146.6" r="6.05"/><circle cx="1001" cy="1150.4" r="6.05"/></g>
<path class="rd" d="M845.2 918.8L1095.5 952.2"/>
<text transform="translate(772.8 732.9) scale(0.9300 1)" text-anchor="end">-8</text><text transform="translate(772.8 844.8) scale(0.9300 1)" text-anchor="end">-4</text><text transform="translate(772.8 956.8) scale(0.9300 1)" text-anchor="end">0</text><text transform="translate(772.8 1068.5) scale(0.9300 1)" text-anchor="end">4</text><text transform="translate(772.8 1180.3) scale(0.9300 1)" text-anchor="end">8</text>
<text transform="translate(812.7 1233) scale(0.9300 1)" text-anchor="middle">-2</text><text transform="translate(915.4 1233) scale(0.9300 1)" text-anchor="middle">-1</text><text transform="translate(1018 1233) scale(0.9300 1)" text-anchor="middle">0</text><text transform="translate(1120.7 1233) scale(0.9300 1)" text-anchor="middle">1</text><text transform="translate(1223.3 1233) scale(0.9300 1)" text-anchor="middle">2</text>
<text class="lb" transform="translate(1037.8 1300.4) scale(0.9577 1)" text-anchor="middle">Annual SST</text>
<text class="lb" transform="translate(714.8 959) rotate(-90) scale(0.9577 1)" text-anchor="middle">Trend 2N</text>
</g>
<g id="panel7">
<rect class="ax" x="1487" y="718" width="414" height="446.4"/>
<path class="ai" d="M1487 941H1901M1694 718V1164.4"/>
<path class="tk" d="M1538.8 931V951M1590.5 928V954M1642.2 931V951M1745.8 931V951M1797.5 928V954M1849.2 931V951M1680.7 829.5H1707.3M1680.7 1052.7H1707.3"/>
<g class="pt"><circle cx="1663" cy="838" r="6.05"/><circle cx="1693" cy="840" r="6.05"/><circle cx="1668" cy="844" r="6.05"/><circle cx="1660" cy="853" r="6.05"/><circle cx="1659" cy="853.6" r="6.05"/><circle cx="1680" cy="867" r="6.05"/>
<circle cx="1663" cy="872.6" r="6.05"/><circle cx="1643.6" cy="881" r="6.05"/><circle cx="1646" cy="887" r="6.05"/><circle cx="1617" cy="888" r="6.05"/><circle cx="1573" cy="891" r="6.05"/><circle cx="1584" cy="894" r="6.05"/>
<circle cx="1585" cy="893.6" r="6.05"/><circle cx="1568" cy="898" r="6.05"/><circle cx="1590.6" cy="898" r="6.05"/><circle cx="1641.4" cy="904" r="6.05"/><circle cx="1606" cy="921" r="6.05"/><circle cx="1679" cy="945.6" r="6.05"/>
<circle cx="1678" cy="945" r="6.05"/><circle cx="1593" cy="947" r="6.05"/><circle cx="1568.4" cy="950" r="6.05"/><circle cx="1578" cy="955" r="6.05"/><circle cx="1682.2" cy="988" r="6.05"/><circle cx="1675" cy="997" r="6.05"/>
<circle cx="1624.4" cy="1002.2" r="6.05"/><circle cx="1697" cy="1002" r="6.05"/><circle cx="1698" cy="1002.4" r="6.05"/><circle cx="1661" cy="1011" r="6.05"/><circle cx="1653.6" cy="1009.4" r="6.05"/><circle cx="1630.4" cy="1014" r="6.05"/>
<circle cx="1632.4" cy="1039" r="6.05"/><circle cx="1633" cy="1035" r="6.05"/><circle cx="1634" cy="1035.4" r="6.05"/><circle cx="1609.4" cy="1040.6" r="6.05"/><circle cx="1673.4" cy="1051.6" r="6.05"/><circle cx="1770" cy="795.2" r="6.05"/>
<circle cx="1753.6" cy="802.6" r="6.05"/><circle cx="1745.6" cy="814.8" r="6.05"/><circle cx="1713.2" cy="827.6" r="6.05"/><circle cx="1730" cy="834.2" r="6.05"/><circle cx="1748.6" cy="832.8" r="6.05"/><circle cx="1655" cy="839" r="6.05"/>
<circle cx="1687.4" cy="838.6" r="6.05"/><circle cx="1633.6" cy="842.6" r="6.05"/><circle cx="1597.8" cy="842.6" r="6.05"/><circle cx="1612.6" cy="844.4" r="6.05"/><circle cx="1663" cy="848.4" r="6.05"/><circle cx="1669.8" cy="850.4" r="6.05"/>
<circle cx="1656" cy="856" r="6.05"/><circle cx="1702.2" cy="856" r="6.05"/><circle cx="1682.4" cy="863" r="6.05"/><circle cx="1653.6" cy="873.2" r="6.05"/><circle cx="1600.8" cy="877.2" r="6.05"/><circle cx="1614.4" cy="879.6" r="6.05"/>
<circle cx="1652" cy="884.8" r="6.05"/><circle cx="1711.4" cy="878.4" r="6.05"/><circle cx="1683" cy="885" r="6.05"/><circle cx="1587.4" cy="893" r="6.05"/><circle cx="1602.6" cy="892.8" r="6.05"/><circle cx="1632.2" cy="892.6" r="6.05"/>
<circle cx="1532.2" cy="894.6" r="6.05"/><circle cx="1574" cy="898" r="6.05"/><circle cx="1561.4" cy="899.4" r="6.05"/><circle cx="1621" cy="899" r="6.05"/><circle cx="1641" cy="899.6" r="6.05"/><circle cx="1699.8" cy="899" r="6.05"/>
<circle cx="1586.4" cy="907" r="6.05"/><circle cx="1596.4" cy="909.4" r="6.05"/><circle cx="1607" cy="908" r="6.05"/><circle cx="1529.2" cy="911.4" r="6.05"/><circle cx="1575.6" cy="916.4" r="6.05"/><circle cx="1709" cy="914" r="6.05"/>
<circle cx="1616.4" cy="920.8" r="6.05"/><circle cx="1519.2" cy="932" r="6.05"/><circle cx="1667.6" cy="929" r="6.05"/><circle cx="1680.4" cy="930.6" r="6.05"/><circle cx="1608" cy="933" r="6.05"/><circle cx="1631.8" cy="938.4" r="6.05"/>
<circle cx="1705.4" cy="938" r="6.05"/><circle cx="1619" cy="941" r="6.05"/><circle cx="1676" cy="943.6" r="6.05"/><circle cx="1722.6" cy="945" r="6.05"/><circle cx="1597.8" cy="950" r="6.05"/><circle cx="1620" cy="951" r="6.05"/>
<circle cx="1699.8" cy="950" r="6.05"/><circle cx="1587.4" cy="955.6" r="6.05"/><circle cx="1536" cy="956" r="6.05"/><circle cx="1570" cy="967" r="6.05"/><circle cx="1722" cy="967.6" r="6.05"/><circle cx="1656.2" cy="969.2" r="6.05"/>
<circle cx="1751.4" cy="983.6" r="6.05"/><circle cx="1532.2" cy="996.8" r="6.05"/><circle cx="1648" cy="996.6" r="6.05"/><circle cx="1680.2" cy="997" r="6.05"/><circle cx="1634" cy="1004.4" r="6.05"/><circle cx="1694" cy="1004" r="6.05"/>
<circle cx="1661.6" cy="1003.6" r="6.05"/><circle cx="1611.8" cy="1012.8" r="6.05"/><circle cx="1679.2" cy="1020" r="6.05"/><circle cx="1594.2" cy="1024.4" r="6.05"/><circle cx="1635.6" cy="1030.8" r="6.05"/><circle cx="1655.2" cy="1031.4" r="6.05"/>
<circle cx="1613" cy="1036" r="6.05"/><circle cx="1579" cy="1038.4" r="6.05"/><circle cx="1677.6" cy="1044.4" r="6.05"/><circle cx="1650.2" cy="1052.8" r="6.05"/></g>
<path class="rs" d="M1518.8 955L1771.2 894.6"/>
<text transform="translate(1448.3 733.3) scale(0.9300 1)" text-anchor="end">8</text><text transform="translate(1448.3 844.8) scale(0.9300 1)" text-anchor="end">4</text><text transform="translate(1448.3 956.3) scale(0.9300 1)" text-anchor="end">0</text><text transform="translate(1448.3 1068) scale(0.9300 1)" text-anchor="end">-4</text><text transform="translate(1448.3 1179.7) scale(0.9300 1)" text-anchor="end">-8</text>
<text transform="translate(1487 1232.4) scale(0.9300 1)" text-anchor="middle">-2</text><text transform="translate(1590.5 1232.4) scale(0.9300 1)" text-anchor="middle">-1</text><text transform="translate(1694 1232.4) scale(0.9300 1)" text-anchor="middle">0</text><text transform="translate(1797.5 1232.4) scale(0.9300 1)" text-anchor="middle">1</text><text transform="translate(1901 1232.4) scale(0.9300 1)" text-anchor="middle">2</text>
<text class="lb" transform="translate(1693.6 1296.4) scale(0.9577 1)" text-anchor="middle">Annual SST</text>
<text class="lb" transform="translate(1335.5 977) rotate(-90) scale(0.9577 1)" text-anchor="middle">Longitude (standardized)</text>
<text class="lb" transform="translate(1390.2 979) rotate(-90) scale(0.9577 1)" text-anchor="middle">Trend 1E</text>
</g>
<g id="panel8">
<rect class="ax" x="2066.4" y="716.6" width="413.6" height="447"/>
<path class="ai" d="M2066.4 939.5H2480M2273 716.6V1163.6"/>
<path class="tk" d="M2117.9 929.5V949.5M2169.6 926.5V952.5M2221.3 929.5V949.5M2324.7 929.5V949.5M2376.4 926.5V952.5M2428.1 929.5V949.5M2259.7 828H2286.3M2259.7 1051.5H2286.3"/>
<g class="pt"><circle cx="2111.4" cy="803.6" r="6.05"/><circle cx="2152" cy="800.6" r="6.05"/><circle cx="2148" cy="810" r="6.05"/><circle cx="2147" cy="810.4" r="6.05"/><circle cx="2152.4" cy="809" r="6.05"/><circle cx="2168" cy="809.6" r="6.05"/>
<circle cx="2181" cy="823" r="6.05"/><circle cx="2211.4" cy="822.4" r="6.05"/><circle cx="2195" cy="831" r="6.05"/><circle cx="2185.6" cy="831" r="6.05"/><circle cx="2165" cy="839" r="6.05"/><circle cx="2248" cy="871.6" r="6.05"/>
<circle cx="2242" cy="870" r="6.05"/><circle cx="2176" cy="877" r="6.05"/><circle cx="2175.2" cy="877.4" r="6.05"/><circle cx="2234" cy="881" r="6.05"/><circle cx="2157" cy="883" r="6.05"/><circle cx="2241" cy="888.4" r="6.05"/>
<circle cx="2235" cy="900.6" r="6.05"/><circle cx="2262.6" cy="1010.4" r="6.05"/><circle cx="2290.4" cy="1009.8" r="6.05"/><circle cx="2288" cy="1017" r="6.05"/><circle cx="2245" cy="1019" r="6.05"/><circle cx="2244" cy="1019.4" r="6.05"/>
<circle cx="2255" cy="1023" r="6.05"/><circle cx="2258" cy="1021" r="6.05"/><circle cx="2300" cy="1038" r="6.05"/><circle cx="2324" cy="1044" r="6.05"/><circle cx="2235.2" cy="1061" r="6.05"/><circle cx="2261" cy="1070.4" r="6.05"/>
<circle cx="2275" cy="1077.4" r="6.05"/><circle cx="2258" cy="1080" r="6.05"/><circle cx="2239.6" cy="1087.2" r="6.05"/><circle cx="2253" cy="1102.8" r="6.05"/><circle cx="2212" cy="1117" r="6.05"/><circle cx="2115.4" cy="796.8" r="6.05"/>
<circle cx="2171.6" cy="797.6" r="6.05"/><circle cx="2153" cy="814.6" r="6.05"/><circle cx="2165.2" cy="815.6" r="6.05"/><circle cx="2220.2" cy="817.6" r="6.05"/><circle cx="2194.4" cy="819.2" r="6.05"/><circle cx="2176" cy="821.6" r="6.05"/>
<circle cx="2108.4" cy="828" r="6.05"/><circle cx="2200" cy="829" r="6.05"/><circle cx="2211" cy="833" r="6.05"/><circle cx="2220.4" cy="837.4" r="6.05"/><circle cx="2155" cy="837.2" r="6.05"/><circle cx="2140.6" cy="841" r="6.05"/>
<circle cx="2111.4" cy="840.6" r="6.05"/><circle cx="2098.2" cy="848.4" r="6.05"/><circle cx="2198" cy="861.2" r="6.05"/><circle cx="2177" cy="874" r="6.05"/><circle cx="2191.6" cy="872.2" r="6.05"/><circle cx="2272.6" cy="876.2" r="6.05"/>
<circle cx="2241.4" cy="877" r="6.05"/><circle cx="2213" cy="878.2" r="6.05"/><circle cx="2259.4" cy="883.6" r="6.05"/><circle cx="2167" cy="884.4" r="6.05"/><circle cx="2149" cy="883.6" r="6.05"/><circle cx="2242" cy="903.2" r="6.05"/>
<circle cx="2193" cy="922" r="6.05"/><circle cx="2226" cy="951" r="6.05"/><circle cx="2179.6" cy="957.4" r="6.05"/><circle cx="2222" cy="969.4" r="6.05"/><circle cx="2231.2" cy="983" r="6.05"/><circle cx="2186.2" cy="999" r="6.05"/>
<circle cx="2232.2" cy="1008.6" r="6.05"/><circle cx="2195.4" cy="1012.2" r="6.05"/><circle cx="2281.2" cy="1011" r="6.05"/><circle cx="2248.8" cy="1016.4" r="6.05"/><circle cx="2266.4" cy="1018.4" r="6.05"/><circle cx="2187" cy="1027" r="6.05"/>
<circle cx="2302" cy="1025" r="6.05"/><circle cx="2327.4" cy="1025" r="6.05"/><circle cx="2279" cy="1030.4" r="6.05"/><circle cx="2309" cy="1036.6" r="6.05"/><circle cx="2349" cy="1036" r="6.05"/><circle cx="2332.4" cy="1040" r="6.05"/>
<circle cx="2291.6" cy="1045" r="6.05"/><circle cx="2199.2" cy="1044.4" r="6.05"/><circle cx="2259.4" cy="1047.2" r="6.05"/><circle cx="2212.8" cy="1059.4" r="6.05"/><circle cx="2240.6" cy="1066" r="6.05"/><circle cx="2203.4" cy="1071.4" r="6.05"/>
<circle cx="2191" cy="1074.2" r="6.05"/><circle cx="2226.6" cy="1073" r="6.05"/><circle cx="2254.4" cy="1073.6" r="6.05"/><circle cx="2273" cy="1070.8" r="6.05"/><circle cx="2233.4" cy="1080" r="6.05"/><circle cx="2188.8" cy="1087.2" r="6.05"/>
<circle cx="2209.4" cy="1096.2" r="6.05"/><circle cx="2229.4" cy="1096.2" r="6.05"/><circle cx="2173.2" cy="1102.2" r="6.05"/><circle cx="2214.8" cy="1106.6" r="6.05"/><circle cx="2256" cy="1112" r="6.05"/><circle cx="2191.8" cy="1113.2" r="6.05"/>
<circle cx="2234.4" cy="1116.4" r="6.05"/><circle cx="2213" cy="1121.4" r="6.05"/><circle cx="2158.2" cy="1121" r="6.05"/></g>
<path class="rs" d="M2098.2 819.8L2349.8 1105.8"/>
<text transform="translate(2027.2 731.9) scale(0.9300 1)" text-anchor="end">8</text><text transform="translate(2027.2 843.3) scale(0.9300 1)" text-anchor="end">4</text><text transform="translate(2027.2 954.8) scale(0.9300 1)" text-anchor="end">0</text><text transform="translate(2027.2 1066.8) scale(0.9300 1)" text-anchor="end">-4</text><text transform="translate(2027.2 1178.9) scale(0.9300 1)" text-anchor="end">-8</text>
<text transform="translate(2066.2 1231) scale(0.9300 1)" text-anchor="middle">-2</text><text transform="translate(2169.6 1231) scale(0.9300 1)" text-anchor="middle">-1</text><text transform="translate(2273 1231) scale(0.9300 1)" text-anchor="middle">0</text><text transform="translate(2376.4 1231) scale(0.9300 1)" text-anchor="middle">1</text><text transform="translate(2479.8 1231) scale(0.9300 1)" text-anchor="middle">2</text>
<text class="lb" transform="translate(2272.3 1295) scale(0.9577 1)" text-anchor="middle">Annual SST</text>
<text class="lb" transform="translate(1967 978) rotate(-90) scale(0.9577 1)" text-anchor="middle">Trend 2E</text>
</g>
</svg>
</body></html>
